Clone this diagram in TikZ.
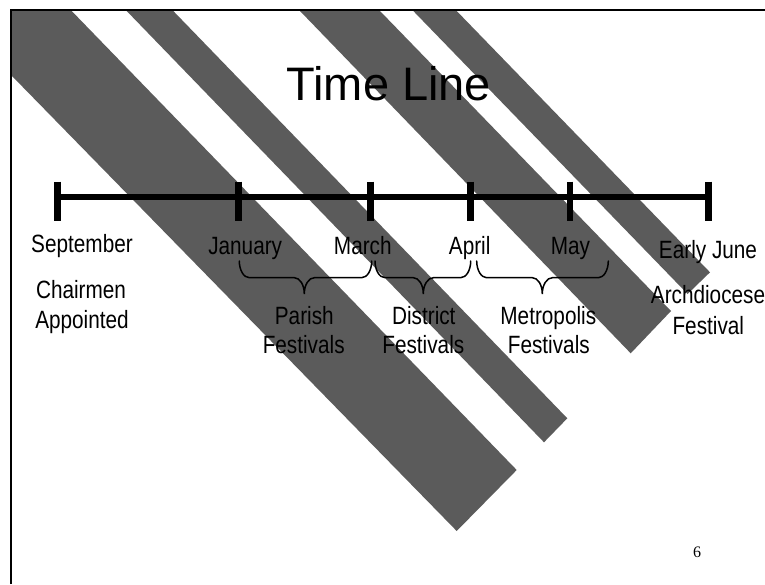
\documentclass[tikz,border=0pt]{standalone}
\usepackage{fontspec}
\setmainfont{Liberation Sans}
\newfontfamily\narrowfont[FakeStretch=0.83]{Liberation Sans}
\newfontfamily\pagefont{Liberation Serif}
\definecolor{stripegray}{RGB}{91,91,91}
\newcommand\curlybr[3]{%
  \draw[bracepath] (#1,261) .. controls (#1,270.2) and ({#1+4.5},277.7) .. ({#1+10},277.7)
    -- ({#2-10},277.7) .. controls ({#2-4.5},277.7) and (#2,284.8) .. (#2,294)
    .. controls (#2,284.8) and ({#2+4.5},277.7) .. ({#2+10},277.7)
    -- ({#3-10},277.7) .. controls ({#3-4.5},277.7) and (#3,270.2) .. (#3,261);}
\begin{document}
\begin{tikzpicture}[x=1pt,y=-1pt,
  lbl/.style={anchor=base, inner sep=0pt, font=\narrowfont\fontsize{25}{30}\selectfont},
  stripefill/.style={fill=stripegray, draw=none},
  frameline/.style={line width=2pt},
  axisline/.style={line width=6pt},
  tickline/.style={line width=6.5pt},
  bracepath/.style={line width=1.5pt, line cap=round}]
\useasboundingbox (0,0) rectangle (765,584);
% stripes
\fill[stripefill] (12,11) -- (71.7,11) -- (516.7,470) -- (456.7,531) -- (12,76) -- cycle;
\fill[stripefill] (126.7,11) -- (173.3,11) -- (567.3,418.3) -- (544,442.3) -- cycle;
\fill[stripefill] (300,11) -- (380,11) -- (671,311) -- (630.7,353.3) -- cycle;
\fill[stripefill] (413.3,11) -- (456.7,11) -- (710,272.3) -- (687.6,294) -- cycle;
% frame
\draw[frameline] (11,584) -- (11,10) -- (765,10);
% timeline
\coordinate (t1) at (57.7,197);
\coordinate (t2) at (238.3,197);
\coordinate (t3) at (370.3,197);
\coordinate (t4) at (470.3,197);
\coordinate (t5) at (570,197);
\coordinate (t6) at (708.3,197);
\draw[axisline] (t1) -- (t6);
\foreach \t in {t1,t2,t3,t4,t5,t6}
  \draw[tickline] (\t) ++(0,-15.3) -- ++(0,39);
% braces
\curlybr{239.3}{304.3}{371.7}
\curlybr{375}{423.3}{470.7}
\curlybr{476.7}{542.3}{608.3}
% title
\node[anchor=base, inner sep=0pt, font=\fontsize{47}{56}\selectfont] (title) at (388.8,100) {Time Line};
% labels
\node[lbl] (sep) at (82,252.7) {September};
\node[lbl] (jan) at (245.2,254) {January};
\node[lbl] (mar) at (362.8,254) {March};
\node[lbl] (apr) at (469.7,254) {April};
\node[lbl] (may) at (570.5,254) {May};
\node[lbl] (jun) at (708,258) {Early June};
\node[lbl] (chair) at (81,298) {Chairmen};
\node[lbl] (appt) at (82,328) {Appointed};
\node[lbl] (parish) at (304.3,324) {Parish};
\node[lbl] (fest1) at (303.7,353.3) {Festivals};
\node[lbl] (district) at (423.8,324) {District};
\node[lbl] (fest2) at (423.3,353.3) {Festivals};
\node[lbl] (metro) at (548.3,324) {Metropolis};
\node[lbl] (fest3) at (548.8,353.3) {Festivals};
\node[lbl] (arch) at (708,303) {Archdiocese};
\node[lbl] (fest4) at (708.3,334) {Festival};
\node[anchor=base, inner sep=0pt, font=\pagefont\fontsize{16}{19}\selectfont] (pg) at (697,557.3) {6};
\end{tikzpicture}
\end{document}
